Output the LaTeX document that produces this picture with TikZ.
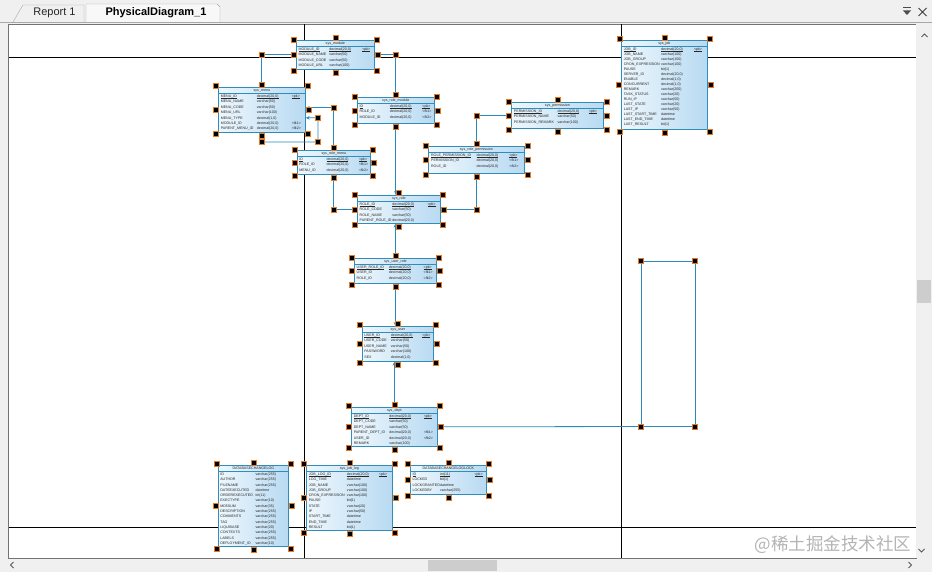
\documentclass[tikz,border=0pt]{standalone}
\usepackage{fontspec}
\setmainfont{Liberation Sans}
\newfontfamily\cjkfont{Noto Sans CJK SC}
\usetikzlibrary{arrows.meta,calc}

\definecolor{canvasgray}{HTML}{F0F0F0}
\definecolor{framegray}{HTML}{A8A8A8}
\definecolor{tabwhite}{HTML}{F8F8F8}
\definecolor{thumbgray}{HTML}{CDCDCD}
\definecolor{linkblue}{HTML}{2A8BBA}
\definecolor{tblborder}{HTML}{2F8DBC}
\definecolor{tbllight}{HTML}{EEF7FD}
\definecolor{tbldark}{HTML}{B8DAF2}
\definecolor{hdlorange}{HTML}{E07B2A}
\definecolor{markgray}{HTML}{B4B4B4}

% thin underline for key columns
\newcommand{\pkline}[1]{\setbox0\hbox{#1}\rlap{\rule[-0.5pt]{\wd0}{0.18pt}}\box0}

\tikzset{
  tbl/.style={draw=tblborder, line width=0.7pt, left color=tbllight, right color=tbldark,
              anchor=north west, inner sep=0pt},
  cell/.style={font=\fontsize{3.6}{3.6}\selectfont, inner sep=0pt, anchor=base west, text=black!85},
  fk/.style={draw=linkblue, line width=0.8pt, -{Stealth[length=4pt,width=3.5pt]}},
  link/.style={draw=linkblue, line width=0.8pt},
  hdl/.style={fill=black, draw=hdlorange, line width=0.2pt, minimum size=5pt, inner sep=0pt},
  pagebreak/.style={draw=black, line width=0.8pt},
  chevron/.style={draw=black!65, line width=1pt},
}

% table box: #1 name, #2 x, #3 y, #4 width, #5 height, #6 title
\newcommand{\dbtable}[6]{%
  \node[tbl, minimum width=#4pt, minimum height=#5pt] (#1) at (#2,#3) {};
  \draw[tblborder, line width=0.5pt] ([yshift=-6.5pt]#1.north west) -- ([yshift=-6.5pt]#1.north east);
  \node[cell, anchor=base] at ([yshift=-4.7pt]#1.north) {#6};
}
% table rows: #1 table, #2 row height, #3 underlined rows, #4 type column, #5 rows
\newcommand{\dbrows}[5]{%
  \foreach \cname/\ctype/\ckey [count=\i] in {#5} {
    \ifnum\i>#3\relax\let\cfmt\relax\else\let\cfmt\pkline\fi
    \node[cell] at ($(#1.north west)!0.03!(#1.north east)+(0,{7.8+(\i-0.5)*#2})$) {\cfmt{\cname}};
    \node[cell] at ($(#1.north west)!#4!(#1.north east)+(0,{7.8+(\i-0.5)*#2})$) {\cfmt{\ctype}};
    \node[cell] at ($(#1.north west)!0.84!(#1.north east)+(0,{7.8+(\i-0.5)*#2})$) {\cfmt{\ckey}};
  }
}
% selection handles round a table
\newcommand{\selbox}[1]{%
  \foreach \a in {north west,north,north east,east,south east,south,south west,west}
    {\node[hdl] at ($(#1.\a)!-2.5pt!(#1.center)$) {};}
}

\begin{document}
\begin{tikzpicture}[x=1pt, y=-1pt]
\useasboundingbox (0,0) rectangle (932,572);

% window and tabs
\fill[canvasgray] (0,0) rectangle (932,572);
\draw[framegray, fill=canvasgray] (13,22) -- (23,5) -- (84,5) -- (84,22);
\draw[framegray, fill=tabwhite] (86,22) -- (86,4) -- (217,4) -- (220,7) -- (220,22);
\node[font=\fontsize{11}{11}\selectfont, text=black!85] (reporttab) at (54.5,13) {Report 1};
\node[font=\bfseries\fontsize{11}{11}\selectfont] (diagramtab) at (156,13) {PhysicalDiagram\_1};
\draw[framegray] (0,22.5) -- (932,22.5);
\fill[black!70] (903,10.5) -- (911,10.5) -- (907,15) -- cycle;
\draw[black!70, line width=1.2pt] (903,7.5) -- (911,7.5);
\draw[black!75, line width=1pt] (918.5,8) -- (926.5,16) (918.5,16) -- (926.5,8);

% canvas and scroll bars
\draw[black!55, fill=white] (8.5,24) rectangle (916,558);
\fill[canvasgray] (916,24) rectangle (932,558);
\fill[thumbgray] (917,280) rectangle (931,303);
\draw[chevron] (921.5,37) -- (924.5,34) -- (927.5,37);
\draw[chevron] (918.5,549) -- (921.5,552) -- (924.5,549);
\fill[thumbgray] (428,559.5) rectangle (497,571);
\draw[chevron] (13.5,562) -- (10.5,565) -- (13.5,568);
\draw[chevron] (908.5,562) -- (911.5,565) -- (908.5,568);

% page breaks
\draw[pagebreak] (9,57) -- (916,57);
\draw[pagebreak] (9,527) -- (916,527);
\draw[pagebreak] (304,24) -- (304,558);
\draw[pagebreak] (621,24) -- (621,558);

% tables
\dbtable{module}{296}{40}{78}{29}{sys\_module}
\dbrows{module}{5.4}{1}{0.42}{MODULE\_ID/{decimal(20,0)}/<pk>, MODULE\_NAME/varchar(50)/{},
  MODULE\_CODE/varchar(50)/{}, MODULE\_URL/varchar(100)/{}}

\dbtable{menu}{218}{87}{87}{45}{sys\_menu}
\dbrows{menu}{5.4}{1}{0.44}{MENU\_ID/{decimal(20,0)}/<pk>, MENU\_NAME/varchar(50)/{},
  MENU\_CODE/varchar(50)/{}, MENU\_URL/varchar(100)/{}, MENU\_TYPE/{decimal(1,0)}/{},
  MODULE\_ID/{decimal(20,0)}/<fk1>, PARENT\_MENU\_ID/{decimal(20,0)}/<fk2>}

\dbtable{rolemodule}{357}{97}{77}{26}{sys\_role\_module}
\dbrows{rolemodule}{5.4}{1}{0.42}{ID/{decimal(20,0)}/<pk>, ROLE\_ID/{decimal(20,0)}/<fk1>,
  MODULE\_ID/{decimal(20,0)}/<fk2>}

\dbtable{permission}{511}{102}{92}{26}{sys\_permission}
\dbrows{permission}{5.4}{1}{0.5}{PERMISSION\_ID/{decimal(20,0)}/<pk>,
  PERMISSION\_NAME/varchar(50)/{}, PERMISSION\_REMARK/varchar(100)/{}}

\dbtable{rolemenu}{297}{150}{73}{24}{sys\_role\_menu}
\dbrows{rolemenu}{5.4}{1}{0.4}{ID/{decimal(20,0)}/<pk>, ROLE\_ID/{decimal(20,0)}/<fk1>,
  MENU\_ID/{decimal(20,0)}/<fk2>}

\dbtable{roleperm}{428}{146}{96}{27}{sys\_role\_permission}
\dbrows{roleperm}{5.4}{1}{0.5}{ROLE\_PERMISSION\_ID/{decimal(20,0)}/<pk>,
  PERMISSION\_ID/{decimal(20,0)}/<fk1>, ROLE\_ID/{decimal(20,0)}/<fk2>}

\dbtable{role}{357}{195}{83}{28}{sys\_role}
\dbrows{role}{5.4}{1}{0.42}{ROLE\_ID/{decimal(20,0)}/<pk>, ROLE\_CODE/varchar(50)/{},
  ROLE\_NAME/varchar(50)/{}, PARENT\_ROLE\_ID/{decimal(20,0)}/{}}

\dbtable{userrole}{354}{258}{82}{25}{sys\_user\_role}
\dbrows{userrole}{5.4}{1}{0.42}{USER\_ROLE\_ID/{decimal(20,0)}/<pk>,
  USER\_ID/{decimal(20,0)}/<fk1>, ROLE\_ID/{decimal(20,0)}/<fk2>}

\dbtable{user}{362}{326}{71}{35}{sys\_user}
\dbrows{user}{5.4}{1}{0.4}{USER\_ID/{decimal(20,0)}/<pk>, USER\_CODE/varchar(50)/{},
  USER\_NAME/varchar(50)/{}, PASSWORD/varchar(100)/{}, SEX/{decimal(1,0)}/{}}

\dbtable{dept}{351}{407}{86}{39}{sys\_dept}
\dbrows{dept}{5.4}{1}{0.44}{DEPT\_ID/{decimal(20,0)}/<pk>, DEPT\_CODE/varchar(50)/{},
  DEPT\_NAME/varchar(50)/{}, PARENT\_DEPT\_ID/{decimal(20,0)}/<fk1>,
  USER\_ID/{decimal(20,0)}/<fk2>, REMARK/varchar(100)/{}}

\dbtable{job}{621}{40}{86}{89}{sys\_job}
\dbrows{job}{5}{1}{0.46}{JOB\_ID/{decimal(20,0)}/<pk>, JOB\_NAME/varchar(100)/{},
  JOB\_GROUP/varchar(100)/{}, CRON\_EXPRESSION/varchar(100)/{}, PAUSE/bit(1)/{},
  SERVER\_ID/{decimal(20,0)}/{}, ENABLE/{decimal(1,0)}/{}, CONCURRENT/{decimal(1,0)}/{},
  REMARK/varchar(200)/{}, TASK\_STATUS/varchar(20)/{}, RUN\_IP/varchar(50)/{},
  LAST\_STATE/varchar(20)/{}, LAST\_IP/varchar(50)/{}, LAST\_START\_TIME/datetime/{},
  LAST\_END\_TIME/datetime/{}, LAST\_RESULT/bit(1)/{}}

\dbtable{changelog}{218}{465}{70}{81}{DATABASECHANGELOG}
\dbrows{changelog}{5.3}{0}{0.53}{ID/varchar(255)/{}, AUTHOR/varchar(255)/{},
  FILENAME/varchar(255)/{}, DATEEXECUTED/datetime/{}, ORDEREXECUTED/int(11)/{},
  EXECTYPE/varchar(10)/{}, MD5SUM/varchar(35)/{}, DESCRIPTION/varchar(255)/{},
  COMMENTS/varchar(255)/{}, TAG/varchar(255)/{}, LIQUIBASE/varchar(20)/{},
  CONTEXTS/varchar(255)/{}, LABELS/varchar(255)/{}, DEPLOYMENT\_ID/varchar(10)/{}}

\dbtable{joblog}{306}{465}{86}{65}{sys\_job\_log}
\dbrows{joblog}{5.3}{1}{0.47}{JOB\_LOG\_ID/{decimal(20,0)}/<pk>, LOG\_TIME/datetime/{},
  JOB\_NAME/varchar(100)/{}, JOB\_GROUP/varchar(100)/{}, CRON\_EXPRESSION/varchar(100)/{},
  PAUSE/bit(1)/{}, STATE/varchar(20)/{}, IP/varchar(50)/{}, START\_TIME/datetime/{},
  END\_TIME/datetime/{}, RESULT/bit(1)/{}}

\dbtable{lock}{410}{465}{76}{29}{DATABASECHANGELOGLOCK}
\dbrows{lock}{5.4}{1}{0.39}{ID/int(11)/<pk>, LOCKED/bit(1)/{}, LOCKGRANTED/datetime/{},
  LOCKEDBY/varchar(255)/{}}

% references
\coordinate (menuloopA) at (261.5,142);
\coordinate (menuloopB) at (318,142);
\coordinate (deptloopA) at (641,426.5);
\coordinate (deptloopB) at (641,261);
\coordinate (deptloopC) at (695,261);
\coordinate (deptloopD) at (695,426.5);

\draw[fk] (menu.north) |- (module.west);
\draw[fk] (rolemodule.north) |- (module.east);
\draw[fk] (menu.south) -- (menuloopA) -- (menuloopB) |- ([yshift=-8pt]menu.east);
\draw[fk] (rolemenu.north) |- ([yshift=2pt]menu.east);
\draw[fk] (rolemenu.south) |- (role.west);
\draw[fk] (rolemodule.south) -- (rolemodule.south |- role.north);
\draw[fk] (roleperm.north) |- (permission.west);
\draw[fk] (roleperm.south) |- (role.east);
\draw[fk] (userrole.north) -- (userrole.north |- role.south);
\draw[fk] (userrole.south) -- (userrole.south |- user.north);
\draw[fk] (dept.north) -- (dept.north |- user.south);
% dept self reference
\draw[fk] (deptloopA) -- (dept.east);
\draw[link] (deptloopA) -- (deptloopB) -- (deptloopC) -- (deptloopD) -- cycle;

% selection handles
\coordinate (bendA) at (menu.north |- module.west);
\coordinate (bendB) at (rolemodule.north |- module.east);
\coordinate (bendC) at (menuloopB |- 0,118);
\coordinate (bendD) at (rolemenu.north |- 0,108);
\coordinate (bendE) at (rolemenu.south |- role.west);
\coordinate (bendF) at (roleperm.north |- permission.west);
\coordinate (bendG) at (roleperm.south |- role.east);
\foreach \c in {bendA,bendB,bendC,bendD,bendE,bendF,bendG,menuloopA,menuloopB,
                deptloopA,deptloopB,deptloopC,deptloopD}
  {\node[hdl] at (\c) {};}
\foreach \t in {module,menu,rolemodule,permission,rolemenu,roleperm,role,userrole,
                user,dept,job,changelog,joblog,lock}
  {\selbox{\t}}

% watermark
\node[font=\cjkfont\fontsize{17.5}{17.5}\selectfont, text=markgray, anchor=east] (mark)
  at (915,545) {@稀土掘金技术社区};
\end{tikzpicture}
\end{document}
